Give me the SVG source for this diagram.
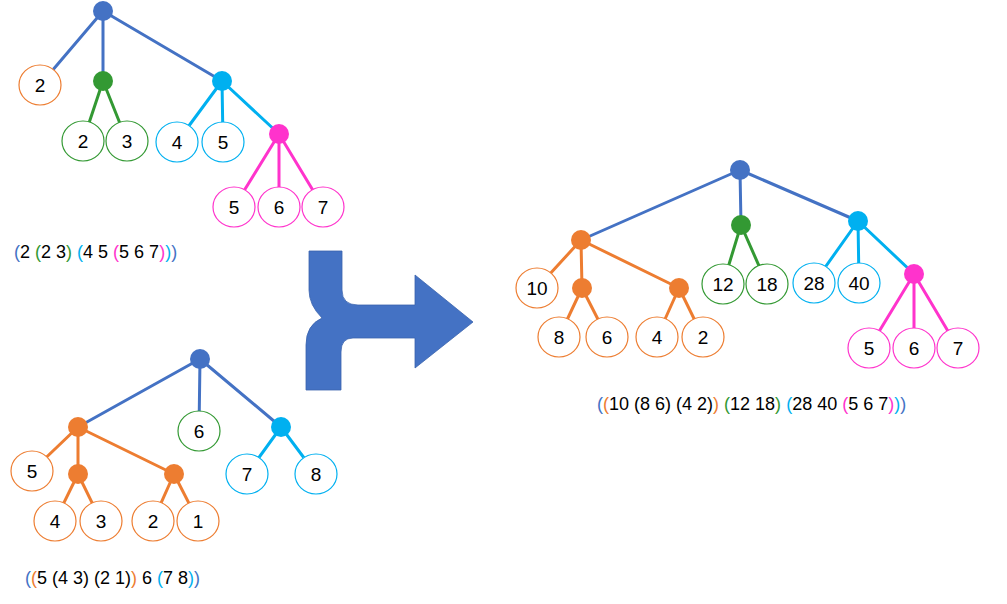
<svg xmlns="http://www.w3.org/2000/svg" width="1007" height="604" viewBox="0 0 1007 604">
<style>
.e{stroke-width:3;fill:none}
.b{stroke:#4472C4}.o{stroke:#ED7D31}.g{stroke:#339933}.c{stroke:#00B0F0}.p{stroke:#FF33CC}
.l{fill:#fff;stroke-width:1.2}
.d{stroke:none}
.t{font-family:"Liberation Sans",Arial,sans-serif;font-size:19px;fill:#000;text-anchor:middle}
.x{font-family:"Liberation Sans",Arial,sans-serif;font-size:18px;fill:#000}
.B{fill:#4472C4}.O{fill:#ED7D31}.G{fill:#339933}.C{fill:#00B0F0}.P{fill:#FF33CC}
</style>
<g id="connectors">
<path class="e b" d="M103,11L40,85M103,11L103,81M103,11L222,81"/>
<path class="e g" d="M103,81L83,141M103,81L127,141"/>
<path class="e c" d="M222,81L177,142M222,81L223,142M222,81L279,134"/>
<path class="e p" d="M279,134L234,207M279,134L279,207M279,134L323,207"/>
<path class="e b" d="M200,359L78,427M200,359L199,431M200,359L281,427"/>
<path class="e o" d="M78,427L32,471M78,427L78,474M78,427L174,474M78,474L55,521M78,474L101,521M174,474L153,521M174,474L198,521"/>
<path class="e c" d="M281,427L247,474M281,427L316,474"/>
<path class="e b" d="M740,170L581,240M740,170L741,225M740,170L858,221"/>
<path class="e o" d="M581,240L537,288M581,240L582,288M581,240L679,288M582,288L559,337M582,288L607,337M679,288L657,337M679,288L703,337"/>
<path class="e g" d="M741,225L723,284M741,225L767,284"/>
<path class="e c" d="M858,221L814,283M858,221L859,283M858,221L914,274"/>
<path class="e p" d="M914,274L869,348M914,274L914,348M914,274L958,348"/>
</g>
<g id="arrow"><path fill="#4472C4" stroke="#3a63ad" stroke-width="0.8" d="M309,251L342,251L342,290Q342,305 358,305L415,305L415,275L473,322L415,368L415,338L353,338Q341,338 341,352L341,390L306,390L306,345Q306,325 322,318Q309,305 309,290Z"/></g>
<g id="tree1">
<circle id="n1" class="d B" cx="103" cy="11" r="10"/>
<g id="n2"><ellipse class="l o" cx="40" cy="85" rx="21" ry="20"/><text class="t" x="40" y="92">2</text></g>
<circle id="n3" class="d G" cx="103" cy="81" r="10"/>
<circle id="n4" class="d C" cx="222" cy="81" r="10"/>
<g id="n5"><ellipse class="l g" cx="83" cy="141" rx="21" ry="20"/><text class="t" x="83" y="148">2</text></g>
<g id="n6"><ellipse class="l g" cx="127" cy="141" rx="21" ry="20"/><text class="t" x="127" y="148">3</text></g>
<g id="n7"><ellipse class="l c" cx="177" cy="142" rx="21" ry="20"/><text class="t" x="177" y="149">4</text></g>
<g id="n8"><ellipse class="l c" cx="223" cy="142" rx="21" ry="20"/><text class="t" x="223" y="149">5</text></g>
<circle id="n9" class="d P" cx="279" cy="134" r="10"/>
<g id="n10"><ellipse class="l p" cx="234" cy="207" rx="21" ry="20"/><text class="t" x="234" y="214">5</text></g>
<g id="n11"><ellipse class="l p" cx="279" cy="207" rx="21" ry="20"/><text class="t" x="279" y="214">6</text></g>
<g id="n12"><ellipse class="l p" cx="323" cy="207" rx="21" ry="20"/><text class="t" x="323" y="214">7</text></g>
<text class="x" x="14" y="258"><tspan class="B">(</tspan>2 <tspan class="G">(</tspan>2 3<tspan class="G">)</tspan> <tspan class="C">(</tspan>4 5 <tspan class="P">(</tspan>5 6 7<tspan class="P">)</tspan><tspan class="C">)</tspan><tspan class="B">)</tspan></text>
</g>
<g id="tree2">
<circle id="m1" class="d B" cx="200" cy="359" r="10"/>
<circle id="m2" class="d O" cx="78" cy="427" r="10"/>
<g id="m3"><ellipse class="l g" cx="199" cy="431" rx="21" ry="20"/><text class="t" x="199" y="438">6</text></g>
<circle id="m4" class="d C" cx="281" cy="427" r="10"/>
<g id="m5"><ellipse class="l o" cx="32" cy="471" rx="21" ry="20"/><text class="t" x="32" y="478">5</text></g>
<circle id="m6" class="d O" cx="78" cy="474" r="10"/>
<circle id="m7" class="d O" cx="174" cy="474" r="10"/>
<g id="m8"><ellipse class="l o" cx="55" cy="521" rx="21" ry="20"/><text class="t" x="55" y="528">4</text></g>
<g id="m9"><ellipse class="l o" cx="101" cy="521" rx="21" ry="20"/><text class="t" x="101" y="528">3</text></g>
<g id="m10"><ellipse class="l o" cx="153" cy="521" rx="21" ry="20"/><text class="t" x="153" y="528">2</text></g>
<g id="m11"><ellipse class="l o" cx="198" cy="521" rx="21" ry="20"/><text class="t" x="198" y="528">1</text></g>
<g id="m12"><ellipse class="l c" cx="247" cy="474" rx="21" ry="20"/><text class="t" x="247" y="481">7</text></g>
<g id="m13"><ellipse class="l c" cx="316" cy="474" rx="21" ry="20"/><text class="t" x="316" y="481">8</text></g>
<text class="x" x="25" y="584"><tspan class="B">(</tspan><tspan class="O">(</tspan>5 (4 3) (2 1)<tspan class="O">)</tspan> 6 <tspan class="C">(</tspan>7 8<tspan class="C">)</tspan><tspan class="B">)</tspan></text>
</g>
<g id="tree3">
<circle id="r1" class="d B" cx="740" cy="170" r="10"/>
<circle id="r2" class="d O" cx="581" cy="240" r="10"/>
<circle id="r3" class="d G" cx="741" cy="225" r="10"/>
<circle id="r4" class="d C" cx="858" cy="221" r="10"/>
<g id="r5"><ellipse class="l o" cx="537" cy="288" rx="21" ry="20"/><text class="t" x="537" y="295">10</text></g>
<circle id="r6" class="d O" cx="582" cy="288" r="10"/>
<circle id="r7" class="d O" cx="679" cy="288" r="10"/>
<g id="r8"><ellipse class="l o" cx="559" cy="337" rx="21" ry="20"/><text class="t" x="559" y="344">8</text></g>
<g id="r9"><ellipse class="l o" cx="607" cy="337" rx="21" ry="20"/><text class="t" x="607" y="344">6</text></g>
<g id="r10"><ellipse class="l o" cx="657" cy="337" rx="21" ry="20"/><text class="t" x="657" y="344">4</text></g>
<g id="r11"><ellipse class="l o" cx="703" cy="337" rx="21" ry="20"/><text class="t" x="703" y="344">2</text></g>
<g id="r12"><ellipse class="l g" cx="723" cy="284" rx="21" ry="20"/><text class="t" x="723" y="291">12</text></g>
<g id="r13"><ellipse class="l g" cx="767" cy="284" rx="21" ry="20"/><text class="t" x="767" y="291">18</text></g>
<g id="r14"><ellipse class="l c" cx="814" cy="283" rx="21" ry="20"/><text class="t" x="814" y="290">28</text></g>
<g id="r15"><ellipse class="l c" cx="859" cy="283" rx="21" ry="20"/><text class="t" x="859" y="290">40</text></g>
<circle id="r16" class="d P" cx="914" cy="274" r="10"/>
<g id="r17"><ellipse class="l p" cx="869" cy="348" rx="21" ry="20"/><text class="t" x="869" y="355">5</text></g>
<g id="r18"><ellipse class="l p" cx="914" cy="348" rx="21" ry="20"/><text class="t" x="914" y="355">6</text></g>
<g id="r19"><ellipse class="l p" cx="958" cy="348" rx="21" ry="20"/><text class="t" x="958" y="355">7</text></g>
<text class="x" x="597" y="410"><tspan class="B">(</tspan><tspan class="O">(</tspan>10 (8 6) (4 2)<tspan class="O">)</tspan> <tspan class="G">(</tspan>12 18<tspan class="G">)</tspan> <tspan class="C">(</tspan>28 40 <tspan class="P">(</tspan>5 6 7<tspan class="P">)</tspan><tspan class="C">)</tspan><tspan class="B">)</tspan></text>
</g>
</svg>
